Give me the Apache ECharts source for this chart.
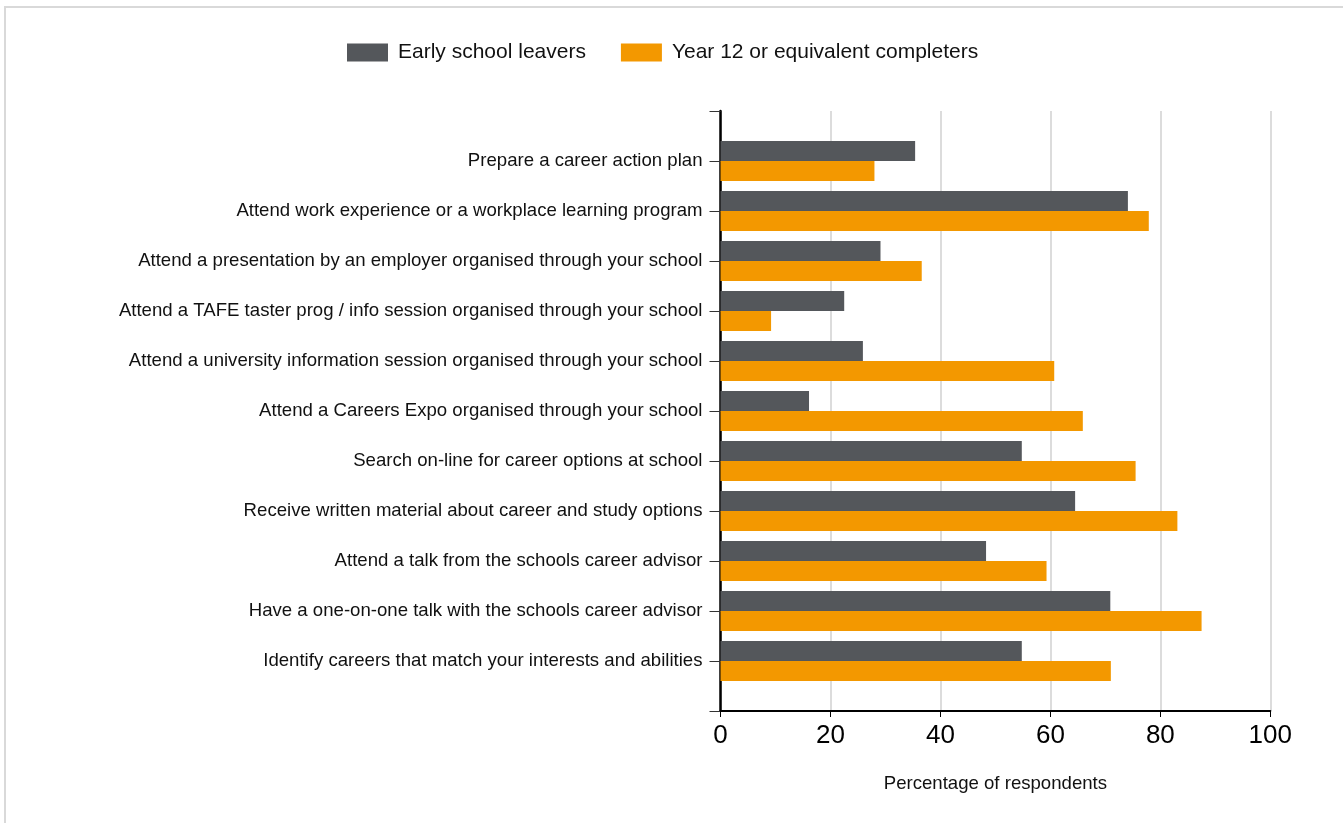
<!DOCTYPE html>
<html>
<head>
<meta charset="utf-8">
<script src="https://cdn.jsdelivr.net/npm/echarts@6/dist/echarts.min.js"></script>
<style>
html,body{margin:0;padding:0;background:#fff;}
#frame{position:absolute;left:4px;top:6px;width:1400px;height:900px;border-top:2px solid #d9d9d9;border-left:2px solid #d9d9d9;box-sizing:border-box;}
#chart{position:absolute;left:0;top:0;width:1343px;height:823px;}
</style>
</head>
<body>
<div id="frame"></div>
<div id="chart"></div>
<script>
var categories = [
  "Prepare a career action plan",
  "Attend work experience or a workplace learning program",
  "Attend a presentation by an employer organised through your school",
  "Attend a TAFE taster prog / info session organised through your school",
  "Attend a university information session organised through your school",
  "Attend a Careers Expo organised through your school",
  "Search on-line for career options at school",
  "Receive written material about career and study options",
  "Attend a talk from the schools career advisor",
  "Have a one-on-one talk with the schools career advisor",
  "Identify careers that match your interests and abilities"
];
var earlyLeavers = [35.4, 74.1, 29.1, 22.5, 25.9, 16.1, 54.8, 64.5, 48.3, 70.9, 54.8];
var year12Completers = [28.0, 77.9, 36.6, 9.2, 60.7, 65.9, 75.5, 83.1, 59.3, 87.5, 71.0];
var xTicks = [0, 20, 40, 60, 80, 100];

// pad with an empty slot at each end so the axis has a half-band margin
var cats = [''].concat(categories, ['']);
function pad(a){ return [null].concat(a, [null]); }

var chart = echarts.init(document.getElementById('chart'));
chart.setOption({
  animation: false,
  textStyle: {fontFamily: 'Liberation Sans, Arial, sans-serif'},
  legend: {
    left: 342, top: 37,
    itemWidth: 41, itemHeight: 18, itemGap: 35,
    icon: 'rect',
    textStyle: {fontSize: 21, color: '#111', padding: [0, 0, 0, 5]},
    data: ['Early school leavers', 'Year 12 or equivalent completers']
  },
  grid: {left: 720.5, right: 72.7, top: 111, bottom: 112, containLabel: false},
  xAxis: {
    type: 'value', min: xTicks[0], max: xTicks[xTicks.length - 1], interval: 20,
    name: 'Percentage of respondents', nameLocation: 'middle', nameGap: 63,
    nameTextStyle: {fontSize: 18.6, color: '#111'},
    axisLine: {show: true, lineStyle: {color: '#000', width: 2}},
    axisTick: {show: true, length: 6, lineStyle: {color: '#000', width: 1}},
    axisLabel: {fontSize: 26, color: '#000', margin: 12},
    splitLine: {show: true, lineStyle: {color: '#dcdcdc', width: 2}}
  },
  yAxis: {
    type: 'category', data: cats, inverse: true, boundaryGap: false,
    axisLine: {show: true, lineStyle: {color: '#000', width: 2.5}},
    axisTick: {show: true, length: 11, interval: 0, lineStyle: {color: '#333', width: 1}},
    axisLabel: {fontSize: 18.6, color: '#111', interval: 0, margin: 18},
    splitLine: {show: false}
  },
  series: [
    {
      name: 'Early school leavers', type: 'bar', data: pad(earlyLeavers),
      barWidth: 20, barGap: '0%',
      itemStyle: {color: '#54575b'}
    },
    {
      name: 'Year 12 or equivalent completers', type: 'bar', data: pad(year12Completers),
      barWidth: 20, barGap: '0%',
      itemStyle: {color: '#f39800'}
    }
  ]
});
</script>
</body>
</html>
